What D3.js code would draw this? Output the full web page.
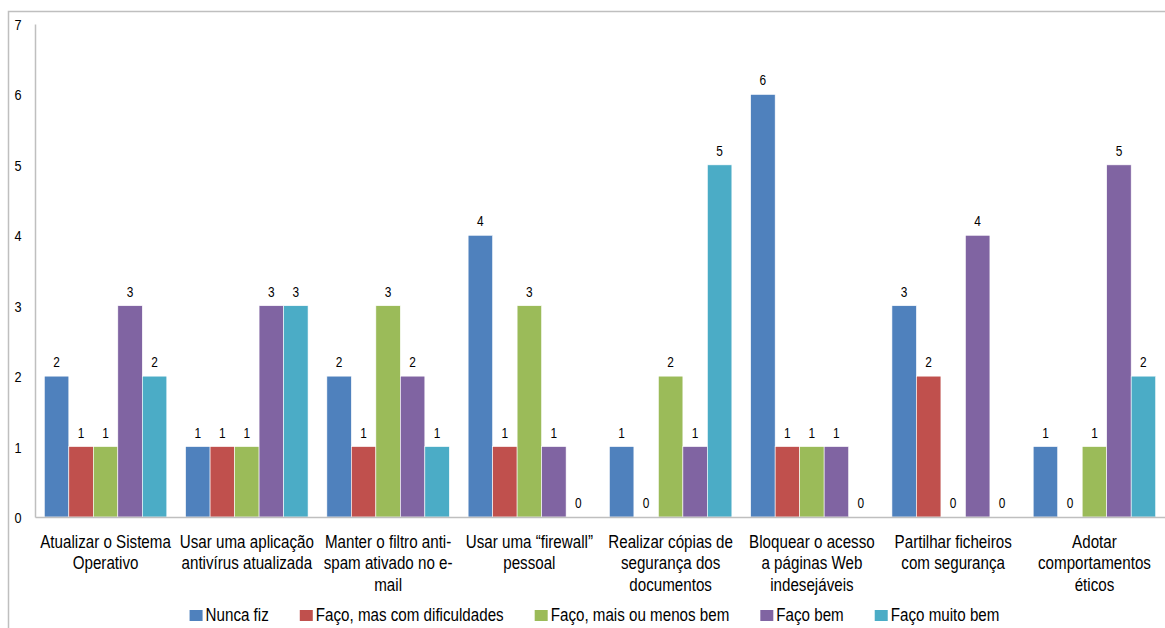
<!DOCTYPE html>
<html>
<head>
<meta charset="utf-8">
<script src="https://cdn.jsdelivr.net/npm/d3@7"></script>
<style>
  html, body { margin: 0; padding: 0; background: #fff; }
  svg text { font-family: 'Liberation Sans', Arial, sans-serif; fill: #000; }
</style>
</head>
<body>
<svg id="chart" width="1165" height="628"></svg>
<script>
// Categories (line breaks as they appear under the axis)
const categories = [
  "Atualizar o Sistema\nOperativo",
  "Usar uma aplicação\nantivírus atualizada",
  "Manter o filtro anti-\nspam ativado no e-\nmail",
  "Usar uma “firewall”\npessoal",
  "Realizar cópias de\nsegurança dos\ndocumentos",
  "Bloquear o acesso\na páginas Web\nindesejáveis",
  "Partilhar ficheiros\ncom segurança",
  "Adotar\ncomportamentos\néticos"
];

const seriesNames = [
  "Nunca fiz",
  "Faço, mas com dificuldades",
  "Faço, mais ou menos bem",
  "Faço bem",
  "Faço muito bem"
];

const nuncaFiz          = [2, 1, 2, 4, 1, 6, 3, 1];
const comDificuldades   = [1, 1, 1, 1, 0, 1, 2, 0];
const maisOuMenosBem    = [1, 1, 3, 3, 2, 1, 0, 1];
const facoBem           = [3, 3, 2, 1, 1, 1, 4, 5];
const facoMuitoBem      = [2, 3, 1, 0, 5, 0, 0, 2];

const yTicks = [0, 1, 2, 3, 4, 5, 6, 7];

const seriesValues = [nuncaFiz, comDificuldades, maisOuMenosBem, facoBem, facoMuitoBem];
const colors = ["#4F81BD", "#C0504D", "#9BBB59", "#8064A2", "#4BACC6"];

// condensed text: regular face squeezed horizontally
const SQUEEZE = 0.82;

const svg = d3.select("#chart");

// outer frame
svg.append("rect")
  .attr("x", 8.5).attr("y", 11.5)
  .attr("width", 1170).attr("height", 630)
  .attr("fill", "none")
  .attr("stroke", "#BFBFBF")
  .attr("stroke-width", 1.5);

const plot = { left: 35, right: 1165, top: 24, bottom: 517 };

const x = d3.scaleBand()
  .domain(d3.range(categories.length))
  .range([plot.left, plot.right])
  .paddingInner(0.133)
  .paddingOuter(0.066);

const xs = d3.scaleBand()
  .domain(d3.range(seriesNames.length))
  .range([0, x.bandwidth()])
  .padding(0);

const y = d3.scaleLinear()
  .domain([0, 7])
  .range([plot.bottom, plot.top]);

// bars and value labels
const groups = svg.append("g").selectAll("g")
  .data(categories)
  .join("g")
  .attr("transform", (d, i) => `translate(${x(i)},0)`);

groups.each(function (cat, ci) {
  const g = d3.select(this);
  const vals = seriesValues.map((s, si) => ({ si, v: s[ci] }));
  g.selectAll("rect")
    .data(vals)
    .join("rect")
    .attr("x", d => xs(d.si))
    .attr("y", d => y(d.v))
    .attr("width", xs.bandwidth())
    .attr("height", d => y(0) - y(d.v))
    .attr("fill", d => colors[d.si])
    .attr("stroke", "#ffffff")
    .attr("stroke-width", 0.6);
  g.selectAll("text.val")
    .data(vals)
    .join("text")
    .attr("class", "val")
    .attr("transform", d => `translate(${xs(d.si) + xs.bandwidth() / 2},${y(d.v) - 9}) scale(${SQUEEZE},1)`)
    .attr("text-anchor", "middle")
    .attr("font-size", 14.5)
    .text(d => d.v);
});

// y axis
const yAxis = d3.axisLeft(y).tickValues(yTicks).tickSize(0).tickPadding(0).tickFormat(d3.format("d"));
const ya = svg.append("g").attr("transform", `translate(${plot.left},0)`).call(yAxis);
ya.select(".domain").attr("stroke", "#BFBFBF").attr("stroke-width", 1.5);
ya.selectAll(".tick text")
  .attr("font-size", 15.5)
  .attr("font-family", null)
  .attr("text-anchor", "middle")
  .attr("x", null)
  .attr("dy", "0.35em")
  .attr("transform", `translate(-17,0) scale(${SQUEEZE},1)`);

// x axis line
const xAxis = d3.axisBottom(x).tickSize(0).tickFormat("");
const xa = svg.append("g").attr("transform", `translate(0,${plot.bottom})`).call(xAxis);
xa.select(".domain").attr("stroke", "#BFBFBF").attr("stroke-width", 1.5);

// category labels
const catLabels = svg.append("g");
categories.forEach((c, i) => {
  const t = catLabels.append("text")
    .attr("text-anchor", "middle")
    .attr("font-size", 18.5)
    .attr("transform", `translate(${x(i) + x.bandwidth() / 2},548) scale(${SQUEEZE},1)`);
  c.split("\n").forEach((line, li) => {
    t.append("tspan")
      .attr("x", 0)
      .attr("y", li * 21.5)
      .text(line);
  });
});

// legend
const legend = svg.append("g");
const items = legend.selectAll("g").data(seriesNames).join("g");
items.append("rect")
  .attr("width", 13).attr("height", 11)
  .attr("y", 610)
  .attr("fill", (d, i) => colors[i]);
items.append("text")
  .attr("transform", `translate(16,621) scale(${SQUEEZE},1)`)
  .attr("font-size", 18.5)
  .text(d => d);
const widths = [];
items.each(function () {
  widths.push(d3.select(this).select("text").node().getComputedTextLength() * SQUEEZE + 16);
});
const gap = 31;
const total = d3.sum(widths) + gap * (widths.length - 1);
let cx = 594.5 - total / 2;
items.each(function (d, i) {
  d3.select(this).attr("transform", `translate(${cx},0)`);
  cx += widths[i] + gap;
});
</script>
</body>
</html>
